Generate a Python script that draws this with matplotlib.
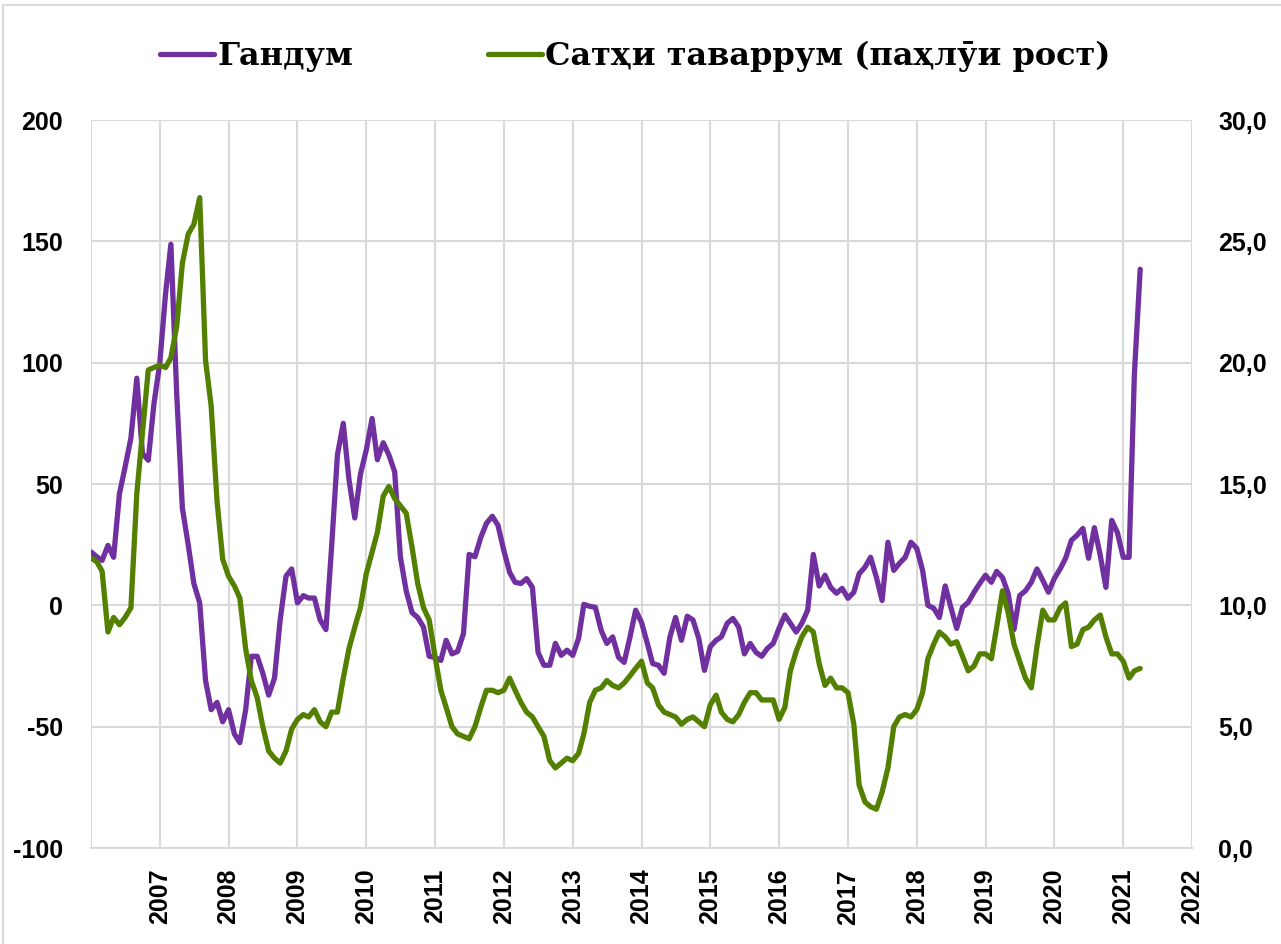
import matplotlib
matplotlib.use('Agg')
import matplotlib.pyplot as plt
from matplotlib.patches import Rectangle
import pandas as pd

# monthly data, Jan 2006 .. Apr 2021
months = pd.date_range('2006-01-01', periods=184, freq='MS')

gandum = [22, 20, 18.5, 24.7, 19.8, 46, 57, 69, 93.6, 62.6,
          59.8, 83, 99.7, 128.6, 148.8, 87, 40, 25, 9, 1,
          -31, -43, -40, -48, -43, -53, -56.6, -43, -21, -21,
          -28, -37, -30, -6, 12, 15, 1, 4, 3, 3,
          -6, -10, 24, 62, 75, 52, 36, 54, 64, 77,
          60, 67, 62, 55, 20, 6, -3, -5, -9, -21,
          -21.5, -22.7, -14.4, -20, -19, -11.6, 21, 20, 28, 33.8,
          36.7, 33, 22.7, 13.6, 9.5, 9, 11, 7.4, -19.4, -24.7,
          -24.7, -15.7, -20.6, -18.5, -20.6, -13.6, 0.4, -0.4, -0.8, -10.3,
          -15.7, -13, -21.4, -23.5, -13, -2, -7, -15.7, -24, -24.7,
          -28, -13, -5, -14.4, -4.5, -6, -13.6, -26.8, -17, -14.4,
          -13, -7.4, -5.4, -9, -20, -15.7, -19.4, -21, -17.7, -15.7,
          -9.5, -4, -7.4, -11, -7.4, -2, 21, 8, 12.4, 7.4,
          5, 7, 2.9, 5.4, 13, 15.7, 19.8, 11.5, 2, 26,
          14.4, 17.3, 19.8, 26, 23.5, 14.4, 0, -1.2, -5, 8,
          -0.8, -9.5, -0.8, 1.2, 5.4, 9, 12.4, 9.5, 14, 11.5,
          4.9, -10, 4, 6, 9.5, 15, 10.3, 5.4, 11, 15,
          19.4, 26.8, 28.9, 31.7, 19.4, 32, 20.6, 7.4, 35, 30,
          19.8, 19.8, 95, 138.5]

tavarrum = [11.95, 11.8, 11.4, 8.9, 9.5, 9.2, 9.5, 9.9, 14.6, 17.1,
            19.7, 19.8, 19.9, 19.8, 20.2, 21.5, 24.1, 25.3, 25.7, 26.8,
            20.1, 18.2, 14.3, 11.9, 11.2, 10.8, 10.3, 8.2, 6.9, 6.2,
            5.0, 4.0, 3.7, 3.5, 4.0, 4.9, 5.3, 5.5, 5.4, 5.7,
            5.2, 5.0, 5.6, 5.6, 7.0, 8.2, 9.1, 9.9, 11.3, 12.2,
            13.0, 14.5, 14.9, 14.4, 14.1, 13.8, 12.4, 10.9, 9.9, 9.4,
            7.9, 6.5, 5.8, 5.0, 4.7, 4.6, 4.5, 5.0, 5.8, 6.5,
            6.5, 6.4, 6.5, 7.0, 6.5, 6.0, 5.6, 5.4, 5.0, 4.6,
            3.6, 3.3, 3.5, 3.7, 3.6, 3.9, 4.7, 6.0, 6.5, 6.6,
            6.9, 6.7, 6.6, 6.8, 7.1, 7.4, 7.7, 6.8, 6.6, 5.9,
            5.6, 5.5, 5.4, 5.1, 5.3, 5.4, 5.2, 5.0, 5.9, 6.3,
            5.6, 5.3, 5.2, 5.5, 6.0, 6.4, 6.4, 6.1, 6.1, 6.1,
            5.3, 5.8, 7.3, 8.1, 8.7, 9.1, 8.9, 7.6, 6.7, 7.0,
            6.6, 6.6, 6.4, 5.1, 2.6, 1.9, 1.7, 1.6, 2.3, 3.3,
            5.0, 5.4, 5.5, 5.4, 5.7, 6.4, 7.8, 8.4, 8.9, 8.7,
            8.4, 8.5, 7.9, 7.3, 7.5, 8.0, 8.0, 7.8, 9.1, 10.6,
            9.7, 8.4, 7.7, 7.0, 6.6, 8.3, 9.8, 9.4, 9.4, 9.9,
            10.1, 8.3, 8.4, 9.0, 9.1, 9.4, 9.6, 8.7, 8.0, 8.0,
            7.7, 7.0, 7.3, 7.4]

years = list(range(2006, 2023))
year_labels = [''] + [str(y) for y in years[1:]]
left_ticks = [-100, -50, 0, 50, 100, 150, 200]
right_ticks = [0, 5, 10, 15, 20, 25, 30]
right_labels = ['0,0', '5,0', '10,0', '15,0', '20,0', '25,0', '30,0']

purple = '#7030A0'
green = '#538000'
grid_c = '#D9D9D9'
tick_font = ['Liberation Sans', 'DejaVu Sans']
legend_font = ['DejaVu Serif']

fig = plt.figure(figsize=(12.81, 9.44), dpi=100)
ax = fig.add_axes([91/1281, 1 - 848/944, (1192 - 91)/1281, (848 - 120)/944])
ax2 = ax.twinx()

l1, = ax.plot(months, gandum, color=purple, lw=3.8, label='Гандум',
              solid_joinstyle='round', solid_capstyle='round')
l2, = ax2.plot(months, tavarrum, color=green, lw=3.8,
               label='Сатҳи таваррум (паҳлӯи рост)',
               solid_joinstyle='round', solid_capstyle='round')

ax.set_ylim(-100, 200)
ax2.set_ylim(0, 30)
ax.set_xlim(pd.Timestamp('2006-01-01'), pd.Timestamp('2022-01-01'))

year_pos = [pd.Timestamp(f'{y}-01-01') for y in years]
ax.set_xticks(year_pos)
ax.set_xticklabels(year_labels, rotation=90, fontsize=18, fontweight='bold',
                   family=tick_font)
ax.set_yticks(left_ticks)
ax.set_yticklabels([str(t) for t in left_ticks], fontsize=18,
                   fontweight='bold', family=tick_font)
ax2.set_yticks(right_ticks)
ax2.set_yticklabels(right_labels, fontsize=18, fontweight='bold',
                    family=tick_font)

ax.tick_params(axis='x', length=0, pad=15)
ax.tick_params(axis='y', length=0, pad=20)
ax2.tick_params(axis='y', length=0, pad=19)

ax.grid(True, color=grid_c, lw=1.5)
ax.set_axisbelow(True)
for a in (ax, ax2):
    for s in a.spines.values():
        s.set_visible(False)
ax.spines['bottom'].set_visible(True)
ax.spines['bottom'].set_color(grid_c)
ax.spines['bottom'].set_linewidth(1.5)

fig.legend(handles=[l1, l2], loc='center', bbox_to_anchor=(0.496, 0.94),
           ncol=2, frameon=False, handlelength=1.7, handletextpad=0.1,
           columnspacing=4.2,
           prop={'family': legend_font, 'weight': 'bold', 'size': 23})

fig.add_artist(Rectangle((3/1281, -0.1), 1.2, 1 - 5/944 + 0.1,
                         transform=fig.transFigure, fill=False,
                         ec=grid_c, lw=1.5))

fig.savefig('out.png', dpi=100)
